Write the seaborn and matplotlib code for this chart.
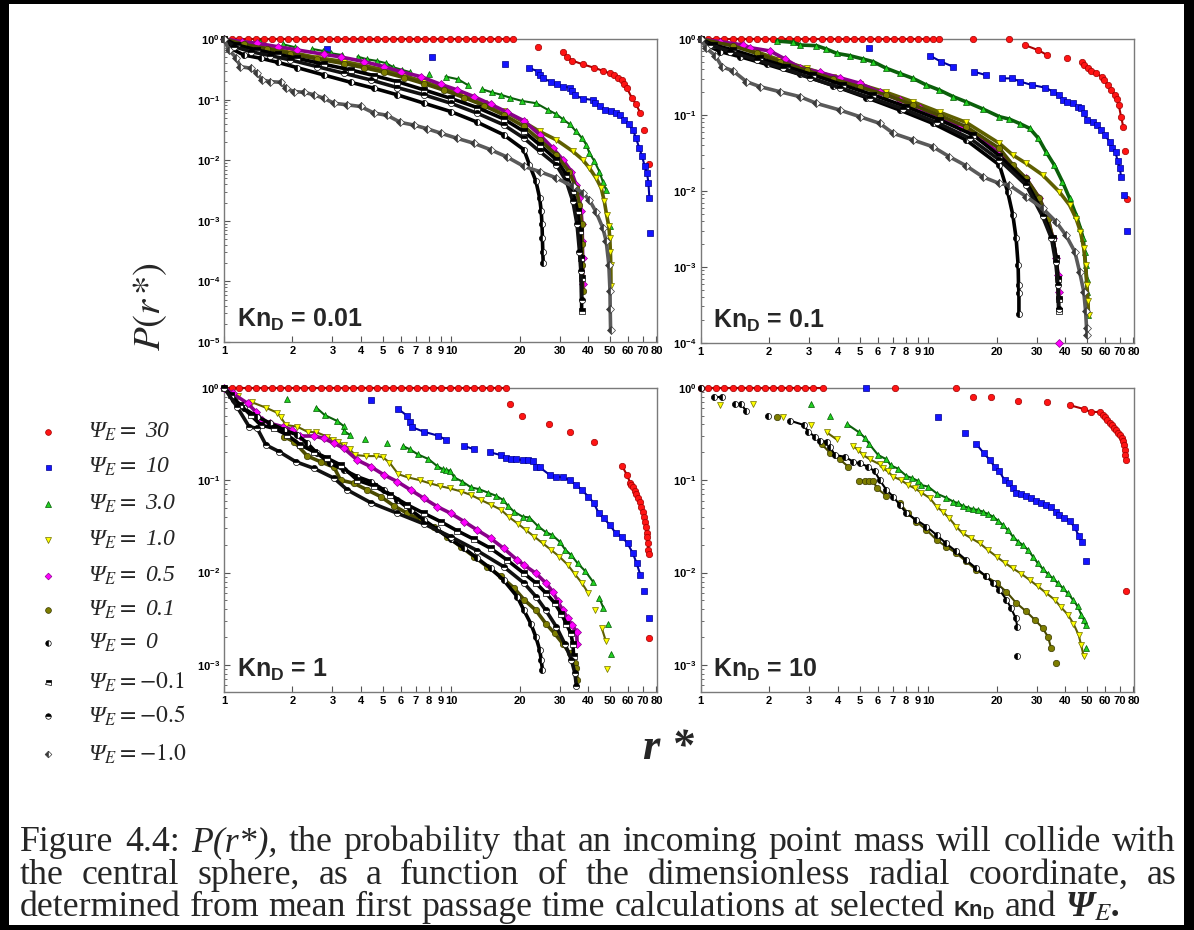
import numpy as np
import matplotlib
matplotlib.use("Agg")
import matplotlib.pyplot as plt
from matplotlib.lines import Line2D
from matplotlib.patches import Rectangle
from matplotlib.ticker import (FixedLocator, FixedFormatter, NullLocator,
                               LogLocator, NullFormatter)
import seaborn as sns

# ---------------------------------------------------------------- data
# Kn_D = 0.01
tl_x_30 = [1.0, 1.08, 1.17, 1.27, 1.38, 1.5, 1.63, 1.77, 1.92, 2.08, 2.26, 2.45, 2.66, 2.89, 3.13, 3.4, 3.69,
           4.0, 4.34, 4.71, 5.11, 5.55, 6.02, 6.53, 7.09, 7.69, 8.35, 9.06, 9.83, 10.7, 11.6, 12.6, 13.6, 14.8,
           16.1, 17.4, 18.7,
           24.0, 31.0, 32.4, 34.1, 38.1, 42.4, 46.4, 50.0, 52.1, 54.4, 56.3, 57.7, 59.2, 62.5, 65.1, 68.0, 70.8, 74.1]
tl_y_30 = [1.0] * 37 + [0.75, 0.60, 0.51, 0.44, 0.38, 0.337, 0.30, 0.27, 0.255, 0.225, 0.21, 0.18, 0.158,
                        0.105, 0.084, 0.060, 0.032, 0.0086]
tl_x_10 = [2.84, 8.22, 17.2, 22.0, 24.2, 24.6, 25.3, 27.4, 29.2, 31.0, 33.2, 34.1, 35.1, 38.2, 42.0, 43.1, 45.2,
           47.7, 50.6, 53.2, 55.6, 57.8, 60.4, 63.0, 65.1, 67.3, 69.2, 71.1, 72.8, 73.8, 74.5, 75.3]
tl_y_10 = [0.676, 0.499, 0.392, 0.333, 0.290, 0.255, 0.225, 0.198, 0.179, 0.164, 0.158, 0.141, 0.117, 0.103,
           0.099, 0.087, 0.077, 0.068, 0.064, 0.060, 0.055, 0.046, 0.039, 0.032, 0.023, 0.0158, 0.0116, 0.0079,
           0.0061, 0.0042, 0.0024, 0.00063]
tl_x_3 = [1.435, 1.82, 2.06, 2.45, 2.74, 2.96, 3.30, 3.87, 4.26, 4.71, 5.18, 5.57, 6.09, 6.60, 8.00, 9.44, 10.7,
          11.8, 13.7, 15.1, 16.6, 18.1, 20.5, 23.7, 26.6, 29.0, 31.0, 33.2, 35.5, 37.7, 39.3, 40.6, 42.7, 44.9,
          46.5, 48.1, 50.0]
tl_y_3 = [0.904, 0.817, 0.729, 0.684, 0.634, 0.581, 0.545, 0.512, 0.463, 0.435, 0.398, 0.341, 0.309, 0.283,
          0.262, 0.240, 0.217, 0.175, 0.148, 0.132, 0.120, 0.108, 0.095, 0.087, 0.068, 0.0575, 0.0475, 0.0393,
          0.0298, 0.0231, 0.0180, 0.0131, 0.0096, 0.0065, 0.0044, 0.0032, 0.00081]
tl_x_1 = [1.0, 1.22, 1.55, 1.96, 2.57, 3.37, 4.13, 5.06, 6.19, 7.58, 9.28, 11.4, 13.9, 17.0, 20.9, 24.5, 29.0,
          34.3, 37.9, 40.6, 43.4, 45.7, 47.2, 48.3, 49.4, 49.9, 50.2, 50.4, 50.5]
tl_y_1 = [1.0, 0.848, 0.720, 0.603, 0.493, 0.424, 0.364, 0.309, 0.249, 0.198, 0.154, 0.120, 0.0873, 0.0653,
          0.0425, 0.0298, 0.0217, 0.0140, 0.0102, 0.0074, 0.0051, 0.0035, 0.0021, 0.00126, 0.00081, 0.00052,
          0.00030, 0.00019, 0.000084]
tl_x_05 = [1.0, 1.20, 1.40, 1.72, 2.10, 2.75, 3.26, 4.13, 5.06, 5.99, 7.33, 8.98, 10.6, 12.6, 14.9, 17.6, 20.9,
           24.5, 28.0, 31.0, 33.8, 35.5, 36.7, 37.3, 37.7, 37.8, 37.9, 37.9]
tl_y_05 = [1.0, 0.904, 0.849, 0.748, 0.659, 0.560, 0.506, 0.424, 0.350, 0.290, 0.240, 0.179, 0.145, 0.112, 0.084,
           0.062, 0.0447, 0.0263, 0.0158, 0.0102, 0.0065, 0.0039, 0.0024, 0.00144, 0.00087, 0.00046, 0.000245,
           0.000091]
tl_x_01 = [1.0, 1.22, 1.55, 1.96, 2.57, 3.37, 4.13, 5.06, 6.19, 7.58, 9.28, 11.4, 13.9, 17.0, 20.9, 24.5, 29.0,
           33.0, 35.5, 36.7, 37.5, 37.7, 37.8, 37.9]
tl_y_01 = [1.0, 0.817, 0.684, 0.574, 0.469, 0.393, 0.337, 0.283, 0.231, 0.184, 0.143, 0.108, 0.0798, 0.0561,
           0.0360, 0.0217, 0.0123, 0.0065, 0.0035, 0.00185, 0.00087, 0.00041, 0.00019, 0.000069]
tl_x_0 = [1.0, 1.07, 1.22, 1.45, 1.72, 2.10, 2.75, 3.61, 4.57, 5.79, 7.58, 9.94, 13.0, 17.0, 20.9, 22.1, 23.6,
          24.5, 24.9, 25.1, 25.2, 25.3, 25.4]
tl_y_0 = [1.0, 0.702, 0.545, 0.481, 0.413, 0.337, 0.255, 0.193, 0.154, 0.120, 0.0873, 0.0636, 0.0425, 0.0263,
          0.0149, 0.0084, 0.0045, 0.0024, 0.00144, 0.00087, 0.00052, 0.00031, 0.000202]
tl_x_m01 = [1.0, 1.14, 1.40, 1.72, 2.10, 2.75, 3.61, 4.57, 5.79, 7.58, 9.94, 13.0, 17.0, 20.9, 24.5, 29.0, 32.1,
            34.3, 36.0, 36.9, 37.3, 37.5, 37.5]
tl_y_m01 = [1.0, 0.797, 0.659, 0.560, 0.481, 0.383, 0.309, 0.249, 0.198, 0.145, 0.105, 0.074, 0.048, 0.0298,
            0.0180, 0.0102, 0.0058, 0.0031, 0.00144, 0.00067, 0.000245, 0.000115, 0.0000324]
tl_x_m05 = [1.0, 1.11, 1.31, 1.60, 1.96, 2.57, 3.37, 4.42, 5.79, 7.58, 9.94, 13.0, 17.0, 20.9, 24.5, 29.0, 32.1,
            34.3, 35.8, 36.7, 37.2, 37.5]
tl_y_m05 = [1.0, 0.748, 0.618, 0.532, 0.451, 0.350, 0.272, 0.211, 0.158, 0.120, 0.0873, 0.0597, 0.0384, 0.0231,
            0.0140, 0.0084, 0.0045, 0.0021, 0.00087, 0.00031, 0.000148, 0.000050]
tl_x_m1 = [1.0, 1.05, 1.13, 1.18, 1.31, 1.40, 1.47, 1.60, 1.78, 1.87, 2.03, 2.25, 2.49, 2.75, 3.05, 3.49, 3.99,
           4.57, 5.23, 5.98, 6.85, 7.84, 8.98, 10.6, 12.6, 14.9, 17.6, 20.9, 24.5, 29.0, 34.3, 37.9, 40.6, 43.4,
           46.5, 48.1, 49.4, 50.0, 50.1, 50.3]
tl_y_m1 = [1.0, 0.659, 0.493, 0.350, 0.329, 0.272, 0.211, 0.198, 0.193, 0.154, 0.136, 0.132, 0.120, 0.105, 0.087,
           0.082, 0.077, 0.060, 0.055, 0.042, 0.038, 0.033, 0.028, 0.023, 0.019, 0.0149, 0.0113, 0.0079, 0.0065,
           0.0051, 0.0037, 0.0029, 0.0022, 0.0014, 0.00076, 0.00046, 0.00019, 0.000069, 0.0000345, 0.0000156]

# Kn_D = 0.1
tr_x_30 = [1.0, 1.08, 1.17, 1.27, 1.38, 1.5, 1.63, 1.77, 1.92, 2.08, 2.26, 2.45, 2.66, 2.89, 3.13, 3.4, 3.69,
           4.0, 4.34, 4.71, 5.11, 5.55, 6.02, 6.53, 7.09, 7.69, 8.35, 9.06, 9.83, 10.5, 11.2,
           15.8, 22.8, 26.6, 30.4, 33.4, 40.8, 47.6, 48.7, 50.4, 52.3, 55.0, 58.4, 59.7, 61.7, 63.9, 66.1, 67.6,
           69.0, 70.6, 72.2, 73.6, 74.8]
tr_y_30 = [1.0] * 31 + [1.0, 1.0, 0.834, 0.716, 0.616, 0.556, 0.493, 0.454, 0.411, 0.383, 0.353, 0.313, 0.288,
                        0.248, 0.213, 0.183, 0.162, 0.135, 0.0948, 0.070, 0.0334, 0.0078]
tr_x_10 = [5.51, 10.2, 11.4, 12.9, 15.9, 17.9, 21.2, 23.4, 25.5, 28.6, 32.7, 35.6, 37.8, 39.3, 40.8, 43.3, 45.5,
           47.0, 48.7, 49.9, 52.9, 55.5, 57.9, 59.9, 62.9, 64.5, 66.8, 68.2, 69.7, 70.6, 72.8, 74.7]
tr_y_10 = [0.753, 0.603, 0.503, 0.432, 0.371, 0.336, 0.303, 0.303, 0.274, 0.248, 0.229, 0.202, 0.183, 0.157,
           0.146, 0.142, 0.128, 0.122, 0.105, 0.0857, 0.0814, 0.0736, 0.0632, 0.0543, 0.0444, 0.0362, 0.0321,
           0.0247, 0.0202, 0.0153, 0.0088, 0.0030]
tr_x_3 = [2.16, 2.55, 2.73, 3.23, 3.57, 3.96, 4.53, 5.18, 5.73, 6.56, 7.49, 8.58, 9.83, 11.2, 12.9, 14.7, 17.4,
          20.6, 22.8, 25.3, 28.0, 30.6, 33.0, 35.9, 39.0, 41.9, 44.8, 46.8, 48.1, 48.8, 49.3, 49.8, 50.1, 50.5]
tr_y_3 = [0.941, 0.904, 0.834, 0.817, 0.738, 0.647, 0.603, 0.545, 0.503, 0.411, 0.353, 0.303, 0.248, 0.213,
          0.174, 0.149, 0.120, 0.0948, 0.088, 0.077, 0.0665, 0.0491, 0.0328, 0.0219, 0.0132, 0.0080, 0.0048,
          0.0032, 0.00236, 0.00158, 0.00105, 0.00070, 0.00047, 0.00023]
tr_x_1 = [1.0, 1.39, 1.76, 2.23, 2.92, 3.83, 5.01, 6.56, 8.58, 11.3, 14.7, 20.6, 23.6, 27.0, 31.9, 37.8, 41.9,
          44.8, 46.8, 48.4, 49.3, 50.0, 50.5, 50.8]
tr_y_1 = [1.0, 0.834, 0.681, 0.529, 0.411, 0.319, 0.253, 0.198, 0.149, 0.108, 0.0798, 0.0422, 0.0296, 0.0230,
          0.0162, 0.0097, 0.0065, 0.0043, 0.0029, 0.00175, 0.00105, 0.00057, 0.00035, 0.00023]
tr_x_05 = [1.0, 1.22, 1.54, 1.65, 2.02, 2.35, 2.73, 3.34, 4.09, 5.01, 6.13, 7.50, 9.19, 11.3, 13.8, 16.9, 20.6,
           22.8, 27.0, 30.9, 33.7, 35.4, 36.6, 37.3, 37.5, 37.6]
tr_y_05 = [1.0, 0.922, 0.834, 0.769, 0.695, 0.545, 0.419, 0.364, 0.309, 0.261, 0.198, 0.157, 0.122, 0.0948,
           0.070, 0.0491, 0.0312, 0.0230, 0.0146, 0.0080, 0.0043, 0.00236, 0.00129, 0.00078, 0.00047, 0.0001]
tr_x_01 = [1.0, 1.39, 1.76, 2.23, 2.92, 3.83, 5.01, 6.56, 8.58, 11.3, 14.7, 20.6, 23.6, 27.0, 30.9, 33.7, 35.4,
           36.6, 37.3, 37.5]
tr_y_01 = [1.0, 0.809, 0.647, 0.503, 0.387, 0.297, 0.233, 0.183, 0.135, 0.0977, 0.070, 0.0362, 0.0219, 0.0146,
           0.0080, 0.0043, 0.00236, 0.00129, 0.00070, 0.00038]
tr_x_0 = [1.0, 1.06, 1.22, 1.49, 1.95, 2.73, 3.83, 5.36, 7.50, 10.5, 14.7, 20.6, 22.4, 23.6, 24.4, 24.9, 25.0,
          25.1, 25.1]
tr_y_0 = [1.0, 0.834, 0.681, 0.585, 0.464, 0.342, 0.243, 0.169, 0.116, 0.0774, 0.0467, 0.0219, 0.0097, 0.0048,
          0.00236, 0.00105, 0.00057, 0.00045, 0.000236]
tr_x_m01 = [1.0, 1.14, 1.39, 1.82, 2.39, 3.13, 4.23, 5.74, 8.03, 11.3, 15.8, 20.6, 27.0, 31.9, 35.4, 36.6, 37.3,
            37.5, 37.6]
tr_y_m01 = [1.0, 0.834, 0.716, 0.556, 0.432, 0.336, 0.248, 0.183, 0.128, 0.0857, 0.0543, 0.0290, 0.0132, 0.0053,
            0.00236, 0.00129, 0.00070, 0.00038, 0.00026]
tr_x_m05 = [1.0, 1.10, 1.35, 1.76, 2.31, 3.02, 4.09, 5.55, 7.78, 10.9, 15.3, 20.6, 27.0, 31.9, 34.9, 36.4, 37.3,
            37.5]
tr_y_m05 = [1.0, 0.834, 0.681, 0.529, 0.411, 0.309, 0.229, 0.169, 0.120, 0.0798, 0.0491, 0.0255, 0.0119, 0.0046,
            0.00236, 0.00116, 0.00057, 0.00028]
tr_x_m1 = [1.0, 1.06, 1.16, 1.24, 1.39, 1.59, 1.82, 2.23, 2.73, 3.23, 4.09, 5.01, 6.13, 7.03, 8.59, 10.5, 12.4,
           14.7, 17.4, 20.6, 22.8, 27.0, 31.9, 36.6, 40.4, 44.2, 46.4, 48.4, 49.3, 49.8, 50.1]
tr_y_m1 = [1.0, 0.753, 0.603, 0.432, 0.379, 0.274, 0.236, 0.202, 0.174, 0.142, 0.116, 0.0948, 0.0774, 0.0572,
           0.0467, 0.0381, 0.0282, 0.0214, 0.0153, 0.0125, 0.0119, 0.0084, 0.0059, 0.0039, 0.0026, 0.00158,
           0.00086, 0.00047, 0.00026, 0.000154, 0.000126]

# Kn_D = 1
bl_x_30 = [1.0, 1.08, 1.17, 1.27, 1.38, 1.5, 1.63, 1.77, 1.92, 2.08, 2.26, 2.45, 2.66, 2.89, 3.13, 3.4, 3.69,
           4.0, 4.34, 4.71, 5.11, 5.55, 6.02, 6.53, 7.09, 7.69, 8.35, 9.06, 9.83, 10.7, 11.6, 12.6, 13.6, 14.8,
           16.1, 17.5,
           18.2, 20.5, 26.9, 33.5, 42.3, 56.5, 59.3, 61.3, 62.1, 63.1, 64.4, 65.0, 66.7, 67.6, 68.6, 69.5, 70.4,
           71.2, 71.8, 72.5, 73.0, 73.4, 73.8, 74.1, 74.1]
bl_y_30 = [1.0] * 36 + [0.666, 0.498, 0.402, 0.329, 0.261, 0.143, 0.114, 0.094, 0.0887, 0.0837, 0.077, 0.0709,
                        0.0636, 0.0586, 0.0517, 0.0456, 0.0403, 0.0356, 0.0314, 0.0266, 0.0241, 0.0207, 0.0176,
                        0.0158, 0.00198]
bl_x_10 = [4.45, 5.85, 6.39, 6.60, 6.74, 7.58, 8.73, 9.53, 11.4, 12.6, 14.8, 16.5, 17.5, 18.4, 19.2, 20.6, 21.8,
           22.9, 23.6, 24.5, 27.1, 29.0, 31.0, 33.2, 35.5, 37.6, 40.1, 42.3, 44.5, 46.9, 49.9, 53.0, 56.3, 59.7,
           63.0, 65.5, 68.0, 70.6, 73.9]
bl_y_10 = [0.736, 0.588, 0.498, 0.422, 0.373, 0.334, 0.303, 0.272, 0.234, 0.216, 0.200, 0.187, 0.172, 0.168,
           0.168, 0.165, 0.165, 0.161, 0.140, 0.138, 0.114, 0.109, 0.107, 0.100, 0.0887, 0.0783, 0.0664, 0.0571,
           0.0445, 0.0387, 0.0328, 0.0266, 0.0245, 0.0207, 0.0162, 0.0126, 0.0094, 0.0063, 0.0032]
bl_x_3 = [1.89, 2.55, 2.77, 3.15, 3.36, 3.37, 3.59, 4.17, 5.21, 6.13, 6.56, 7.13, 7.94, 8.67, 9.19, 9.5, 9.9,
          10.3, 11.2, 12.2, 13.3, 14.5, 15.8, 16.9, 17.8, 18.9, 20.6, 22.1, 24.0, 26.1, 27.8, 30.0, 31.8, 33.7,
          36.0, 39.0, 42.0, 44.9, 46.8, 48.8, 50.6]
bl_y_3 = [0.748, 0.608, 0.507, 0.436, 0.385, 0.340, 0.308, 0.279, 0.254, 0.234, 0.216, 0.190, 0.169, 0.142,
          0.131, 0.128, 0.127, 0.107, 0.0964, 0.0837, 0.0796, 0.0733, 0.0675, 0.0611, 0.0526, 0.0456, 0.0403,
          0.0394, 0.0320, 0.0273, 0.0255, 0.0216, 0.0176, 0.0155, 0.0126, 0.0103, 0.0080, 0.0053, 0.0041, 0.0028,
          0.00131]
bl_x_1 = [1.15, 1.33, 1.53, 1.71, 1.78, 1.87, 2.10, 2.34, 2.55, 2.85, 3.02, 3.19, 3.37, 3.57, 3.78, 4.23, 4.68,
          5.0, 5.35, 5.85, 6.45, 7.26, 8.03, 8.89, 9.84, 11.1, 12.2, 13.5, 15.0, 16.6, 18.0, 19.7, 21.3, 23.2,
          25.3, 27.5, 29.9, 32.6, 34.9, 37.6, 40.1, 42.8, 46.0, 48.0, 48.3]
bl_y_1 = [0.813, 0.694, 0.608, 0.537, 0.478, 0.395, 0.379, 0.332, 0.330, 0.295, 0.272, 0.256, 0.240, 0.216,
          0.187, 0.182, 0.182, 0.177, 0.155, 0.116, 0.107, 0.100, 0.0925, 0.0865, 0.0816, 0.0752, 0.0692, 0.0611,
          0.0540, 0.0476, 0.0397, 0.0336, 0.0289, 0.0245, 0.0207, 0.0176, 0.0149, 0.0121, 0.0097, 0.0077, 0.0060,
          0.0039, 0.0025, 0.0018, 0.00091]
bl_x_05 = [1.0, 1.09, 1.27, 1.38, 1.47, 1.60, 1.81, 2.00, 2.17, 2.49, 2.75, 3.05, 3.37, 3.86, 4.42, 5.06, 5.79,
           6.63, 7.58, 8.68, 9.94, 11.4, 13.0, 14.9, 17.0, 19.5, 20.9, 23.6, 26.1, 28.0, 29.4, 31.0, 32.6, 34.0,
           35.7, 35.8]
bl_y_05 = [1.0, 0.868, 0.677, 0.550, 0.447, 0.411, 0.379, 0.349, 0.300, 0.300, 0.283, 0.250, 0.221, 0.165, 0.140,
           0.114, 0.0964, 0.0783, 0.0636, 0.0517, 0.0438, 0.0356, 0.0289, 0.0235, 0.0183, 0.0137, 0.0121, 0.0098,
           0.0077, 0.0062, 0.0049, 0.0039, 0.0032, 0.0027, 0.0023, 0.0017]
bl_x_01 = [1.84, 2.03, 2.33, 2.66, 3.05, 3.26, 3.73, 4.27, 4.89, 5.60, 6.41, 7.33, 8.39, 9.61, 11.0, 12.6, 14.4,
           16.5, 18.9, 20.9, 23.6, 26.1, 28.5, 31.0, 33.2, 34.9, 35.5, 35.8]
bl_y_01 = [0.295, 0.261, 0.182, 0.158, 0.138, 0.100, 0.0925, 0.0783, 0.0664, 0.0526, 0.0438, 0.0371, 0.0309,
           0.0245, 0.0191, 0.0149, 0.0116, 0.0091, 0.0068, 0.0051, 0.0039, 0.0028, 0.0022, 0.0017, 0.00134,
           0.00105, 0.00092, 0.00069]
bl_x_0 = [1.0, 1.11, 1.22, 1.40, 1.60, 1.84, 2.10, 2.33, 2.57, 2.94, 3.37, 3.86, 4.42, 5.06, 5.79, 6.63, 7.58,
          8.68, 9.94, 11.4, 13.0, 14.9, 17.0, 19.5, 20.9, 22.4, 23.6, 24.5, 24.9, 25.2]
bl_y_0 = [1.0, 0.736, 0.598, 0.486, 0.411, 0.349, 0.308, 0.250, 0.195, 0.152, 0.129, 0.109, 0.0964, 0.0783,
          0.0611, 0.0476, 0.0371, 0.0294, 0.0229, 0.0183, 0.0143, 0.0111, 0.0083, 0.0055, 0.0039, 0.0028, 0.0020,
          0.00146, 0.00114, 0.00089]
bl_x_m01 = [1.0, 1.07, 1.18, 1.31, 1.45, 1.66, 1.90, 2.17, 2.49, 2.85, 3.26, 3.86, 4.57, 5.40, 6.41, 7.58, 8.98,
            10.6, 12.6, 14.9, 17.6, 20.9, 23.6, 26.1, 28.5, 30.5, 32.1, 33.6, 34.3, 34.6]
bl_y_m01 = [1.0, 0.833, 0.650, 0.507, 0.395, 0.363, 0.308, 0.240, 0.203, 0.172, 0.146, 0.100, 0.0865, 0.0692,
            0.0540, 0.0438, 0.0356, 0.0284, 0.0229, 0.0183, 0.0137, 0.0098, 0.0077, 0.0060, 0.0047, 0.0036,
            0.0028, 0.0022, 0.0017, 0.00124]
bl_x_m05 = [1.0, 1.14, 1.29, 1.40, 1.53, 1.75, 2.07, 2.49, 3.05, 3.49, 4.42, 5.79, 7.58, 9.94, 13.0, 17.0, 20.9,
            23.6, 26.1, 29.0, 31.6, 33.8, 35.0, 35.6]
bl_y_m05 = [1.0, 0.623, 0.379, 0.363, 0.240, 0.203, 0.158, 0.134, 0.105, 0.0783, 0.0571, 0.0438, 0.0336, 0.0245,
            0.0173, 0.0116, 0.0077, 0.0055, 0.0039, 0.0026, 0.0017, 0.00114, 0.00082, 0.00059]

# Kn_D = 10
br_x_30 = [1.0, 1.08, 1.17, 1.27, 1.38, 1.5, 1.63, 1.77, 1.92, 2.08, 2.26, 2.45, 2.66, 2.89, 3.13, 3.46,
           7.14, 13.3, 15.8, 19.0, 24.8, 33.4, 42.3, 48.4, 52.2, 57.1, 58.9, 60.0, 61.2, 62.9, 64.4, 65.8, 66.9,
           68.7, 69.9, 71.1, 72.1, 72.9, 73.3, 73.6, 74.2, 74.2]
br_y_30 = [1.0] * 16 + [1.0, 1.0, 0.786, 0.786, 0.718, 0.700, 0.644, 0.588, 0.546, 0.546, 0.507, 0.478, 0.447,
                        0.419, 0.395, 0.370, 0.349, 0.326, 0.308, 0.288, 0.265, 0.240, 0.212, 0.187, 0.165, 0.0063]
br_x_10 = [5.31, 11.1, 14.6, 16.3, 17.6, 18.7, 19.6, 20.6, 21.7, 22.7, 23.6, 24.4, 25.7, 27.0, 28.4, 29.9, 31.4,
           33.1, 34.8, 36.4, 37.8, 39.8, 41.9, 44.1, 46.0, 47.6, 49.6]
br_y_10 = [1.0, 0.486, 0.326, 0.246, 0.195, 0.165, 0.140, 0.124, 0.100, 0.0925, 0.0816, 0.0721, 0.0709, 0.0675,
           0.0636, 0.0596, 0.0571, 0.0540, 0.0509, 0.0456, 0.0420, 0.0387, 0.0365, 0.0309, 0.0251, 0.0213, 0.0134]
br_x_3 = [3.07, 3.70, 4.41, 4.97, 5.27, 5.51, 6.03, 6.56, 6.86, 7.38, 8.03, 8.53, 9.03, 9.29, 10.0, 11.0, 12.0,
          12.9, 13.6, 14.2, 15.0, 15.8, 16.6, 17.4, 18.3, 19.3, 20.3, 21.3, 22.4, 23.6, 24.9, 26.1, 27.5, 28.9,
          30.4, 32.0, 33.6, 35.3, 37.2, 39.1, 41.1, 43.3, 45.5, 47.2, 48.4, 49.3, 49.6]
br_y_3 = [0.661, 0.494, 0.402, 0.329, 0.288, 0.246, 0.187, 0.168, 0.144, 0.133, 0.111, 0.105, 0.098, 0.0887,
          0.0851, 0.0709, 0.0647, 0.0586, 0.0562, 0.0526, 0.0504, 0.0484, 0.0476, 0.0456, 0.0431, 0.0403, 0.0365,
          0.0328, 0.0289, 0.0245, 0.0216, 0.0199, 0.0176, 0.0149, 0.0126, 0.0109, 0.0097, 0.0087, 0.0077, 0.0068,
          0.0060, 0.0051, 0.0043, 0.0035, 0.0031, 0.0027, 0.00152]
br_x_1 = [1.22, 1.69, 2.31, 3.05, 3.58, 3.96, 4.66, 4.93, 5.18, 5.54, 6.14, 6.34, 6.67, 7.02, 7.6, 8.17, 8.73,
          9.35, 10.2, 10.9, 11.6, 12.4, 13.3, 14.2, 15.5, 16.9, 18.3, 20.0, 21.7, 23.6, 25.7, 28.0, 30.4, 33.1,
          36.0, 38.5, 41.2, 43.6, 46.0, 47.1, 48.4]
br_y_1 = [0.650, 0.661, 0.486, 0.395, 0.329, 0.276, 0.234, 0.212, 0.187, 0.168, 0.148, 0.134, 0.124, 0.109,
          0.100, 0.0887, 0.0816, 0.0733, 0.0636, 0.0517, 0.0456, 0.0387, 0.0314, 0.0266, 0.0235, 0.0207, 0.0176,
          0.0149, 0.0128, 0.0111, 0.0097, 0.0083, 0.0071, 0.0060, 0.0051, 0.0042, 0.0035, 0.0028, 0.0021,
          0.00165, 0.00124]
br_x_01 = [2.16, 3.40, 3.70, 4.09, 4.45, 4.97, 5.27, 5.51, 5.74, 5.97, 6.56, 7.51, 8.17, 8.89, 9.84, 10.9, 12.0,
           13.3, 14.7, 16.3, 18.0, 20.0, 22.1, 24.4, 27.0, 29.4, 32.0, 33.7, 34.8, 36.6]
br_y_01 = [0.486, 0.246, 0.198, 0.168, 0.140, 0.0988, 0.0988, 0.0988, 0.0972, 0.0816, 0.0675, 0.0562, 0.0438,
           0.0356, 0.0289, 0.0226, 0.0191, 0.0162, 0.0132, 0.0107, 0.0091, 0.0077, 0.0062, 0.0047, 0.0038, 0.0031,
           0.0025, 0.0020, 0.00152, 0.00105]
br_x_0 = [1.0, 1.14, 1.24, 1.42, 1.51, 1.58, 1.98, 2.47, 2.84, 2.97, 3.18, 3.34, 3.58, 3.70, 3.89, 4.30, 4.69,
          5.01, 5.45, 5.83, 6.13, 6.56, 7.02, 7.51, 8.03, 8.89, 9.84, 10.9, 12.0, 13.3, 14.7, 16.3, 18.0, 19.3,
          20.6, 22.1, 23.2, 24.3, 24.7, 24.7]
br_y_0 = [1.0, 0.786, 0.786, 0.661, 0.661, 0.564, 0.498, 0.440, 0.395, 0.334, 0.295, 0.267, 0.261, 0.230, 0.187,
          0.179, 0.158, 0.152, 0.140, 0.124, 0.100, 0.0783, 0.0664, 0.0540, 0.0438, 0.0371, 0.0314, 0.0255,
          0.0207, 0.0169, 0.0137, 0.0111, 0.0091, 0.0077, 0.0065, 0.0051, 0.0041, 0.0032, 0.0026, 0.00124]

psi_keys = ["30", "10", "3.0", "1.0", "0.5", "0.1", "0", "-0.1", "-0.5", "-1.0"]
x_ticks = [1, 2, 3, 4, 5, 6, 7, 8, 9, 10, 20, 30, 40, 50, 60, 70, 80]
kn_labels = ["0.01", "0.1", "1", "10"]

# ---------------------------------------------------------------- style
sns.set_style("ticks")
plt.rcParams["font.family"] = ["Liberation Sans", "DejaVu Sans"]
plt.rcParams["mathtext.fontset"] = "custom"
plt.rcParams["mathtext.rm"] = "Liberation Sans"
plt.rcParams["mathtext.it"] = "Liberation Sans:italic"
plt.rcParams["mathtext.bf"] = "Liberation Sans:bold"

W, H = 1194, 930
fig = plt.figure(figsize=(W / 100, H / 100), dpi=100)

looks = {
    "30":   dict(marker="o", ms=4.6, mfc="#ff1414", mec="#a00000", alt="none", fill="full", line="#a80000"),
    "10":   dict(marker="s", ms=4.0, mfc="#1414ff", mec="#00008c", alt="none", fill="full", line="#0000a0"),
    "3.0":  dict(marker="^", ms=5.0, mfc="#22d022", mec="#005a00", alt="none", fill="full", line="#0b5f0b"),
    "1.0":  dict(marker="v", ms=5.0, mfc="#ffff00", mec="#6e6e00", alt="none", fill="full", line="#5f5f00"),
    "0.5":  dict(marker="D", ms=3.8, mfc="#ff00ff", mec="#8c008c", alt="none", fill="full", line="#8a008a"),
    "0.1":  dict(marker="o", ms=4.6, mfc="#7d7d00", mec="#383800", alt="none", fill="full", line="#4a4a00"),
    "0":    dict(marker="o", ms=4.4, mfc="black", mec="black", alt="white", fill="left", line="black"),
    "-0.1": dict(marker="s", ms=4.0, mfc="black", mec="black", alt="white", fill="top", line="black"),
    "-0.5": dict(marker="o", ms=4.4, mfc="black", mec="black", alt="white", fill="top", line="#111111"),
    "-1.0": dict(marker="D", ms=3.8, mfc="#3a3a3a", mec="#3a3a3a", alt="white", fill="left", line="#5a5a5a"),
}

BAND, LOOSE = 48, 15   # pixel gap up to which neighbouring markers read as one band

panels = [
    dict(rect=(224, 39, 657, 342), ylim=(1e-5, 1), kn=kn_labels[0], series=[
        ("30", tl_x_30, tl_y_30, LOOSE), ("10", tl_x_10, tl_y_10, LOOSE), ("3.0", tl_x_3, tl_y_3, LOOSE),
        ("1.0", tl_x_1, tl_y_1, BAND), ("0.5", tl_x_05, tl_y_05, BAND), ("0.1", tl_x_01, tl_y_01, BAND),
        ("0", tl_x_0, tl_y_0, BAND), ("-0.1", tl_x_m01, tl_y_m01, BAND), ("-0.5", tl_x_m05, tl_y_m05, BAND),
        ("-1.0", tl_x_m1, tl_y_m1, BAND)]),
    dict(rect=(700.7, 39, 1134, 342.7), ylim=(1e-4, 1), kn=kn_labels[1], series=[
        ("30", tr_x_30, tr_y_30, LOOSE), ("10", tr_x_10, tr_y_10, LOOSE), ("3.0", tr_x_3, tr_y_3, BAND),
        ("1.0", tr_x_1, tr_y_1, BAND), ("0.5", tr_x_05, tr_y_05, BAND), ("0.1", tr_x_01, tr_y_01, BAND),
        ("0", tr_x_0, tr_y_0, BAND), ("-0.1", tr_x_m01, tr_y_m01, BAND), ("-0.5", tr_x_m05, tr_y_m05, BAND),
        ("-1.0", tr_x_m1, tr_y_m1, BAND)]),
    dict(rect=(224, 387.7, 657, 692), ylim=(5.1e-4, 1), kn=kn_labels[2], series=[
        ("30", bl_x_30, bl_y_30, LOOSE), ("10", bl_x_10, bl_y_10, LOOSE), ("3.0", bl_x_3, bl_y_3, LOOSE),
        ("1.0", bl_x_1, bl_y_1, LOOSE), ("0.5", bl_x_05, bl_y_05, BAND), ("0.1", bl_x_01, bl_y_01, BAND),
        ("0", bl_x_0, bl_y_0, BAND), ("-0.1", bl_x_m01, bl_y_m01, BAND), ("-0.5", bl_x_m05, bl_y_m05, BAND)]),
    dict(rect=(700.7, 387.7, 1134, 692), ylim=(5.1e-4, 1), kn=kn_labels[3], series=[
        ("30", br_x_30, br_y_30, LOOSE), ("10", br_x_10, br_y_10, LOOSE), ("3.0", br_x_3, br_y_3, LOOSE),
        ("1.0", br_x_1, br_y_1, LOOSE), ("0.1", br_x_01, br_y_01, LOOSE), ("0", br_x_0, br_y_0, LOOSE)]),
]

for p in panels:
    x0, y0, x1, y1 = p["rect"]
    ax = fig.add_axes([x0 / W, 1 - y1 / H, (x1 - x0) / W, (y1 - y0) / H])
    ax.set_facecolor("white")
    ax.set_xscale("log")
    ax.set_yscale("log")
    ax.set_xlim(1, 80.5)
    ax.set_ylim(*p["ylim"])

    for key, xs, ys, gap in p["series"]:
        lk = looks[key]
        z = 3 + psi_keys.index(key) * 0.1
        xs = np.asarray(xs, float)
        ys = np.asarray(ys, float)
        pix = ax.transData.transform(np.column_stack([xs, ys]))
        step = np.hypot(*np.diff(pix, axis=0).T)
        run = np.concatenate([[0], np.cumsum(step > gap)])
        sns.lineplot(x=xs, y=ys, units=run, estimator=None, sort=False, ax=ax,
                     color=lk["line"], lw=2.6 if gap == BAND else 1.5,
                     solid_capstyle="round", zorder=z, clip_on=False)
        sns.lineplot(x=xs, y=ys, estimator=None, sort=False, ax=ax, linestyle="",
                     marker=lk["marker"], ms=lk["ms"], mfc=lk["mfc"], mec=lk["mec"], mew=0.5,
                     fillstyle=lk["fill"], markerfacecoloralt=lk["alt"], zorder=z + 0.05, clip_on=False)

    ax.set_xlim(1, 80.5)
    ax.set_ylim(*p["ylim"])
    ax.set_xlabel("")
    ax.set_ylabel("")
    ax.xaxis.set_major_locator(FixedLocator(x_ticks))
    ax.xaxis.set_major_formatter(FixedFormatter([str(v) for v in x_ticks]))
    ax.xaxis.set_minor_locator(NullLocator())
    lo = int(np.ceil(np.log10(p["ylim"][0]) - 1e-9))
    decades = list(range(lo, 1))
    ax.yaxis.set_major_locator(FixedLocator([10.0 ** d for d in decades]))
    ax.yaxis.set_major_formatter(FixedFormatter([r"$\mathdefault{10^{%d}}$" % d for d in decades]))
    ax.yaxis.set_minor_locator(LogLocator(base=10, subs=np.arange(2, 10)))
    ax.yaxis.set_minor_formatter(NullFormatter())
    ax.tick_params(which="both", direction="in", color="#555555", labelcolor="black",
                   labelsize=8, pad=3)
    ax.tick_params(which="major", length=4, width=0.8)
    ax.tick_params(which="minor", length=2.3, width=0.6)
    for lab in ax.get_xticklabels() + ax.get_yticklabels():
        lab.set_fontweight("bold")
    for s in ax.spines.values():
        s.set_color("#7a7a7a")
        s.set_linewidth(1.0)
        s.set_visible(True)
    ax.text(0.029, 0.05, "Kn$_\\mathdefault{D}$ = " + p["kn"], transform=ax.transAxes,
            fontsize=18, fontweight="bold", ha="left", va="baseline", zorder=10)

# ---------------------------------------------------------------- legend
# italic serif Psi as plain text, subscript E through mathtext (STIX)
legend_y = [432, 467, 504, 540, 576, 610, 643, 682, 716, 754]
legend_txt = {
    "30": "\u03a8$_E =$ 30", "10": "\u03a8$_E =$ 10", "3.0": "\u03a8$_E =$ 3.0",
    "1.0": "\u03a8$_E =$ 1.0", "0.5": "\u03a8$_E =$ 0.5", "0.1": "\u03a8$_E =$ 0.1",
    "0": "\u03a8$_E =$ 0", "-0.1": "\u03a8$_E = -0.1$", "-0.5": "\u03a8$_E = -0.5$",
    "-1.0": "\u03a8$_E = -1.0$",
}
for key, yy in zip(psi_keys, legend_y):
    lk = looks[key]
    fig.add_artist(Line2D([48 / W], [1 - yy / H], transform=fig.transFigure, linestyle="",
                          marker=lk["marker"], ms=lk["ms"] * 0.9, mfc=lk["mfc"], mec=lk["mec"], mew=0.5,
                          fillstyle=lk["fill"], markerfacecoloralt=lk["alt"]))
    fig.text(88 / W, 1 - yy / H, legend_txt[key], family="Liberation Serif", style="italic",
             math_fontfamily="stix", fontsize=17, ha="left", va="center")

# ---------------------------------------------------------------- axis titles
fig.text(150 / W, 1 - 306 / H, r"$P\left(r\,{*}\right)$", math_fontfamily="stix", fontsize=28,
         rotation=90, ha="center", va="center")
fig.text(668 / W, 1 - 748 / H, "r *", family="Liberation Serif", style="italic", weight="bold",
         fontsize=32, ha="center", va="center")

# ---------------------------------------------------------------- caption
serif = dict(family="Liberation Serif")
cap_lines = [
    ["Figure", "4.4:", ("P(r*),", dict(style="italic")), "the", "probability", "that", "an", "incoming",
     "point", "mass", "will", "collide", "with"],
    ["the", "central", "sphere,", "as", "a", "function", "of", "the", "dimensionless", "radial",
     "coordinate,", "as"],
    ["determined", "from", "mean", "first", "passage", "time", "calculations", "at", "selected",
     ("Kn$_\\mathdefault{D}$", dict(family="Liberation Sans", fontweight="bold", rel=0.62)), "and",
     ("\u03a8$_E$.", dict(style="italic", fontweight="bold", math_fontfamily="stix"))],
]
cap_base = [851, 884, 916]
renderer = fig.canvas.get_renderer()

cap_texts = []
for words, yb in zip(cap_lines, cap_base):
    row = []
    for w in words:
        s, kw = (w if isinstance(w, tuple) else (w, {}))
        kw = dict(kw)
        rel = kw.pop("rel", 1.0)
        opts = dict(serif)
        opts.update(kw)
        t = fig.text(0, 1 - yb / H, s, fontsize=20 * rel, ha="left", va="baseline", **opts)
        row.append((t, rel))
    cap_texts.append(row)

probe = fig.text(0, 0, "n n", fontsize=20, **serif)
probe2 = fig.text(0, 0, "nn", fontsize=20, **serif)
space20 = probe.get_window_extent(renderer).width - probe2.get_window_extent(renderer).width
probe.remove()
probe2.remove()

w_last = sum(t.get_window_extent(renderer).width for t, _ in cap_texts[2]) + space20 * (len(cap_texts[2]) - 1)
w_first = sum(t.get_window_extent(renderer).width for t, _ in cap_texts[0]) + space20 * (len(cap_texts[0]) - 1)
fs = min(20 * 1100 / w_last, 20 * 1150 / w_first)
space = space20 * fs / 20

left, right = 20, 1176
for i, row in enumerate(cap_texts):
    for t, rel in row:
        t.set_fontsize(fs * rel)
    widths = [t.get_window_extent(renderer).width for t, _ in row]
    if i < 2:
        gap = (right - left - sum(widths)) / (len(row) - 1)
    else:
        gap = space
    x = left
    for (t, _), w in zip(row, widths):
        t.set_x(x / W)
        x += w + gap

# ---------------------------------------------------------------- frame
for (fx, fy, fw, fh) in [(0, 0, 9, H), (W - 10, 0, 10, H), (0, H - 4, W, 4), (0, 0, W, 5)]:
    fig.add_artist(Rectangle((fx / W, fy / H), fw / W, fh / H, transform=fig.transFigure,
                             facecolor="black", edgecolor="none"))

fig.savefig("out.png", dpi=100)
